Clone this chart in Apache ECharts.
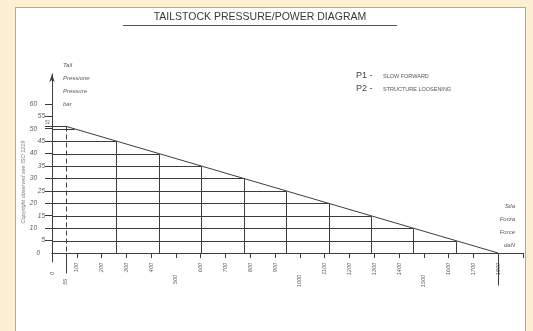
<!DOCTYPE html>
<html><head><meta charset="utf-8">
<script src="https://cdn.jsdelivr.net/npm/echarts@6/dist/echarts.min.js"></script>
<style>
html,body{margin:0;padding:0;background:#fcefd2;}
#sheet{position:absolute;left:15px;top:7px;width:511px;height:330px;background:#fff;border:1px solid #a8a8a8;box-sizing:border-box;}
#chart{position:absolute;left:0;top:0;width:533px;height:331px;}
</style></head><body>
<div id="sheet"></div>
<div id="chart"></div>
<script>
// Pressure line: tailstock pressure (bar) against force (daN)
const lineForces = [55, 1800];
const linePressures = [51, 0];
// Pressure steps and the force where each step meets the line
const stepPressures = [45, 40, 35, 30, 25, 20, 15, 10, 5];
const stepForces = [260, 431, 602, 774, 945, 1116, 1287, 1458, 1629];
// Short shoulder lines at the top of the line
const shoulderPressures = [51, 50];
const shoulderForces = [55, 89];
// Axis ticks and labels
const yLabelValues = [0, 5, 10, 15, 20, 25, 30, 35, 40, 45, 50, 55, 60];
const yTickValues = [5, 10, 15, 20, 25, 30, 35, 40, 45, 50, 51, 55, 60];
const xLabelValues = [0, 55, 100, 200, 300, 400, 500, 600, 700, 800, 900, 1000, 1100, 1200, 1300, 1400, 1500, 1600, 1700, 1800];
const xTickValues = [100, 200, 300, 400, 500, 600, 700, 800, 900, 1000, 1100, 1200, 1300, 1400, 1500, 1600, 1700, 1900];
const title = 'TAILSTOCK PRESSURE/POWER DIAGRAM';
const yNames = ['Tail', 'Pressione', 'Pressure', 'bar'];
const xNames = ['Sila', 'Forza', 'Force', 'daN'];
const legendCodes = ['P1 -', 'P2 -'];
const legendTexts = ['SLOW FORWARD', 'STRUCTURE LOOSENING'];
const sideNote = 'Copyright observed see ISO 1219';

const INK = '#3c3c3c';
const TXT = '#5a5a5a';
const FONT = '"Liberation Sans", Arial, sans-serif';

const chart = echarts.init(document.getElementById('chart'), null, {renderer: 'canvas'});

function px(v) { return Math.round(v) + 0.5; }
function seg(a, b, extra) {
  return Object.assign({
    type: 'line',
    shape: {x1: px(a[0]), y1: px(a[1]), x2: px(b[0]), y2: px(b[1])},
    style: {stroke: INK, lineWidth: 1}
  }, extra || {});
}

const stepData = stepForces.map((f, i) => [f, stepPressures[i]]);
const shoulderData = shoulderForces.map((f, i) => [f, shoulderPressures[i]]);

const graphics = [
  {type: 'text', x: 260, y: 17, style: {text: title, fill: '#383838', font: '10.5px ' + FONT, align: 'center', verticalAlign: 'middle'}},
  {type: 'line', shape: {x1: 123, y1: 25.5, x2: 397, y2: 25.5}, style: {stroke: '#555', lineWidth: 1}},
  {type: 'text', rotation: Math.PI / 2, x: 23, y: 182, style: {text: sideNote, fill: '#7a7a7a', font: 'italic 5.5px ' + FONT, align: 'center', verticalAlign: 'middle'}}
];
yNames.forEach((t, i) => graphics.push({type: 'text', x: 63, y: 65 + i * 13, style: {text: t, fill: TXT, font: 'italic 6px ' + FONT, verticalAlign: 'middle'}}));
xNames.forEach((t, i) => graphics.push({type: 'text', x: 515, y: 206 + i * 13, style: {text: t, fill: TXT, font: 'italic 6px ' + FONT, align: 'right', verticalAlign: 'middle'}}));
legendCodes.forEach((t, i) => {
  graphics.push({type: 'text', x: 356, y: 76 + i * 13, style: {text: t, fill: '#444', font: '9px ' + FONT, verticalAlign: 'middle'}});
  graphics.push({type: 'text', x: 383, y: 76 + i * 13, style: {text: legendTexts[i], fill: '#555', font: '5.5px ' + FONT, verticalAlign: 'middle'}});
});

const option = {
  animation: false,
  backgroundColor: 'transparent',
  grid: {left: 52, right: 10, top: 74, bottom: 69, containLabel: false},
  xAxis: {
    type: 'value', min: 0, max: 1900,
    splitLine: {show: false},
    axisLine: {onZero: true, lineStyle: {color: INK, width: 1}},
    axisTick: {customValues: xTickValues, length: 5, lineStyle: {color: INK}},
    axisLabel: {
      customValues: xLabelValues, rotate: 90, margin: 1,
      color: TXT, fontSize: 5.5, fontStyle: 'italic', fontFamily: FONT,
      formatter: v => v === 0 ? '{zero|0}' : v === 55 ? '{mid|55}' : (v % 500 === 0 ? '{low|' + v + '}' : '{n|' + v + '}'),
      rich: {
        n: {fontSize: 5.5, fontStyle: 'italic', color: TXT},
        low: {fontSize: 5.5, fontStyle: 'italic', color: TXT, padding: [0, 12, 0, 0]},
        zero: {fontSize: 5.5, fontStyle: 'italic', color: TXT, padding: [0, 9, 0, 0]},
        mid: {fontSize: 5.5, fontStyle: 'italic', color: TXT, padding: [0, 16, 0, 0]}
      }
    }
  },
  yAxis: {
    type: 'value', min: -3.6, max: 72,
    splitLine: {show: false},
    axisLine: {onZero: true, symbol: ['none', 'arrow'], symbolSize: [4, 8], lineStyle: {color: INK, width: 1}},
    axisTick: {customValues: yTickValues, length: 7, lineStyle: {color: INK}},
    axisLabel: {
      customValues: yLabelValues, margin: 7,
      color: TXT, fontSize: 6.5, fontStyle: 'italic', fontFamily: FONT,
      formatter: v => (v === 0 ? '{z|0}' : (v % 10 === 0 ? '{far|' + v + '}' : '{n|' + v + '}')),
      rich: {
        n: {fontSize: 6.5, fontStyle: 'italic', color: TXT},
        far: {fontSize: 6.5, fontStyle: 'italic', color: TXT, padding: [0, 8, 0, 0]},
        z: {fontSize: 6.5, fontStyle: 'italic', color: TXT, padding: [0, 5, 0, 0]}
      }
    }
  },
  graphic: graphics,
  series: [
    {
      // pressure/force line
      type: 'line',
      data: lineForces.map((f, i) => [f, linePressures[i]]),
      symbol: 'none',
      lineStyle: {color: INK, width: 1},
      z: 5
    },
    {
      // horizontal step from the axis to the line, then down to the force axis
      type: 'custom',
      data: stepData,
      renderItem: (params, api) => {
        const f = api.value(0), p = api.value(1);
        const a = api.coord([0, p]), b = api.coord([f, p]), c = api.coord([f, 0]);
        return {type: 'group', children: [seg(a, b), seg(b, c)]};
      },
      z: 4
    },
    {
      // shoulder lines at the start of the line; the top one carries its value
      type: 'custom',
      data: shoulderData,
      renderItem: (params, api) => {
        const f = api.value(0), p = api.value(1);
        const a = api.coord([0, p]), b = api.coord([f, p]);
        const children = [seg(a, b)];
        if (params.dataIndex === 0) {
          children.push({type: 'text', x: a[0] - 2, y: a[1] - 1, style: {text: String(p), fill: TXT, font: 'italic 4.5px ' + FONT, align: 'right', verticalAlign: 'bottom'}});
        }
        return {type: 'group', children: children};
      },
      z: 4
    },
    {
      // dashed drop from the start of the line, and the end markers below the axis
      type: 'custom',
      data: lineForces.map((f, i) => [f, linePressures[i]]),
      renderItem: (params, api) => {
        const f = api.value(0), p = api.value(1);
        const top = api.coord([f, p]), base = api.coord([f, 0]);
        const children = [];
        if (p > 0) {
          children.push(seg(top, base, {style: {stroke: INK, lineWidth: 1, lineDash: [5, 3]}}));
          children.push(seg(base, [base[0], base[1] + 20]));
        } else {
          children.push(seg(base, [base[0], base[1] + 32]));
        }
        return {type: 'group', children: children};
      },
      z: 4
    }
  ]
};
chart.setOption(option);
</script>
</body></html>
